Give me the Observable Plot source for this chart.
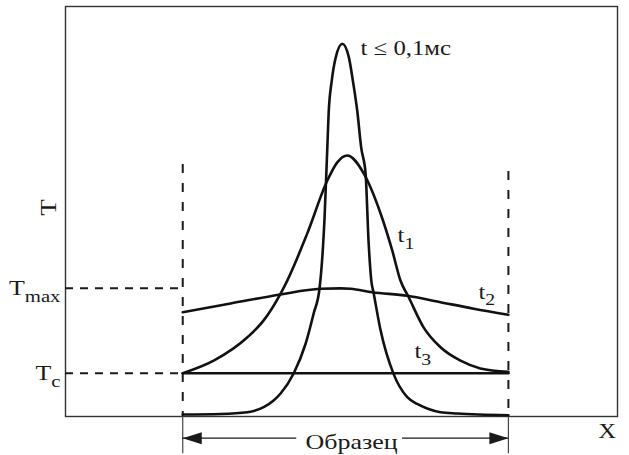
<!DOCTYPE html>
<html>
<head>
<meta charset="utf-8">
<script src="https://cdn.jsdelivr.net/npm/d3@7"></script>
<script src="https://cdn.jsdelivr.net/npm/@observablehq/plot@0.6"></script>
<style>
  html, body { margin: 0; padding: 0; background: #fff; }
  #chart svg { display: block; }
</style>
</head>
<body>
<div id="chart"></div>
<script>
// Temperature profiles T(X) across the specimen at successive moments.
// X: specimen spans -1 … 1; T in relative units (T_c = 1).

const sampleEdges = [-1, 1];
const T_c = 1;
const T_max = 2.96;

// t ≤ 0,1 мс — narrow heating pulse
const pulseX = [-1, -0.767, -0.603, -0.503, -0.442, -0.399, -0.319, -0.245, -0.196, -0.160, -0.129, -0.112, -0.104, -0.085, -0.060, -0.020, 0.020, 0.045, 0.072, 0.096, 0.123, 0.141, 0.158, 0.172, 0.215, 0.294, 0.379, 0.440, 0.501, 0.583, 0.685, 1];
const pulseT = [0.046, 0.058, 0.099, 0.215, 0.37, 0.531, 0.993, 1.686, 2.379, 2.956, 4.596, 6.22, 7.0, 7.75, 8.30, 8.61, 8.30, 7.75, 7.05, 6.21, 5.61, 4.06, 3.14, 2.86, 1.99, 0.99, 0.446, 0.29, 0.185, 0.099, 0.069, 0.03];

// t1
const t1X = [-1, -0.810, -0.603, -0.503, -0.399, -0.358, -0.235, -0.112, -0.051, 0.010, 0.112, 0.215, 0.287, 0.337, 0.387, 0.479, 0.583, 0.706, 0.828, 1];
const t1T = [1.0, 1.29, 1.83, 2.22, 2.84, 3.14, 4.23, 5.45, 5.87, 6.03, 5.61, 4.69, 3.83, 3.14, 2.76, 2.06, 1.60, 1.29, 1.11, 1.03];

// t2
const t2X = [-1, -0.706, -0.399, -0.153, -0.031, 0.031, 0.164, 0.379, 0.583, 0.787, 1];
const t2T = [2.41, 2.61, 2.82, 2.95, 2.96, 2.95, 2.87, 2.79, 2.64, 2.49, 2.35];

// t3 — uniform
const t3X = [-1, 1];
const t3T = [1, 1];

const seriesNames = ["pulse", "t1", "t2", "t3"];
const seriesX = [pulseX, t1X, t2X, t3X];
const seriesT = [pulseT, t1T, t2T, t3T];

const rows = seriesNames.flatMap((name, k) =>
  seriesX[k].map((x, i) => ({series: name, x, T: seriesT[k][i]}))
);

// Curve labels ("_" marks a subscript)
const curveLabels = [
  {text: "t ≤ 0,1мс", x: 0.092, T: 8.34},
  {text: "t_1", x: 0.319, T: 4.02},
  {text: "t_2", x: 0.816, T: 2.725},
  {text: "t_3", x: 0.423, T: 1.34}
];
const levelLabels = [
  {text: "T_max", T: T_max},
  {text: "T_c", T: T_c}
];

const xLeft = -1.72, xRight = 1.67;
const arrowT = -0.5;

// Filled arrowheads (tip at the anchor point)
const headRight = {draw(ctx) { ctx.moveTo(0, 0); ctx.lineTo(-19, -6); ctx.lineTo(-19, 6); ctx.closePath(); }};
const headLeft = {draw(ctx) { ctx.moveTo(0, 0); ctx.lineTo(19, -6); ctx.lineTo(19, 6); ctx.closePath(); }};

const ink = "#1a1a1a";

const plot = Plot.plot({
  width: 629,
  height: 455,
  marginLeft: 65,
  marginRight: 12,
  marginTop: 6,
  marginBottom: 39,
  x: {domain: [xLeft, xRight], axis: null},
  y: {domain: [0, 9.47], axis: null},
  style: {fontFamily: "'Liberation Serif', 'Times New Roman', serif", background: "#fff", overflow: "visible", color: ink},
  marks: [
    Plot.frame({stroke: "#333", strokeWidth: 1.4}),
    // specimen boundaries
    Plot.ruleX([{x: -1, top: 5.82}, {x: 1, top: 5.66}], {x: "x", y1: "top", y2: 0, stroke: ink, strokeWidth: 2, strokeDasharray: "9,10"}),
    Plot.ruleX(sampleEdges, {y1: 0, y2: -0.86, stroke: "#444", strokeWidth: 1.2}),
    // reference levels
    Plot.ruleY([T_max, T_c], {x1: xLeft, x2: -1, stroke: ink, strokeWidth: 2, strokeDasharray: "8,7"}),
    // profiles
    Plot.line(rows, {x: "x", y: "T", z: "series", curve: "monotone-x", stroke: "#111", strokeWidth: 2.6}),
    // specimen extent arrow
    Plot.ruleY([arrowT], {x1: -1, x2: -0.30, stroke: ink, strokeWidth: 1.3}),
    Plot.ruleY([arrowT], {x1: 0.35, x2: 1, stroke: ink, strokeWidth: 1.3}),
    Plot.dot([sampleEdges[0]], {x: d => d, y: arrowT, symbol: headLeft, fill: ink, stroke: "none"}),
    Plot.dot([sampleEdges[1]], {x: d => d, y: arrowT, symbol: headRight, fill: ink, stroke: "none"}),
    Plot.text(["Образец"], {x: 0.037, y: -0.762, text: d => d, lineAnchor: "bottom", fontSize: 22, fill: ink}),
    // labels
    Plot.text(curveLabels, {x: "x", y: "T", text: "text", textAnchor: "start", lineAnchor: "bottom", fontSize: 21, fill: ink}),
    Plot.text(levelLabels, {x: xLeft, y: "T", text: "text", textAnchor: "end", lineAnchor: "bottom", dx: -5, dy: 7, fontSize: 22, fill: ink}),
    Plot.text(["X"], {x: 1.607, y: -0.508, text: d => d, lineAnchor: "bottom", fontSize: 21, fill: ink}),
    Plot.text(["T"], {x: -1.779, y: 4.83, text: d => d, rotate: -90, lineAnchor: "bottom", fontSize: 23, fill: ink})
  ]
});

// Turn "A_b" into A with subscript b; widen the serif lettering slightly
for (const t of plot.querySelectorAll("text")) {
  const s = t.textContent;
  const k = s.indexOf("_");
  if (k >= 0) {
    t.textContent = s.slice(0, k);
    const sub = document.createElementNS("http://www.w3.org/2000/svg", "tspan");
    sub.setAttribute("font-size", "0.8em");
    sub.setAttribute("dy", "0.38em");
    sub.textContent = s.slice(k + 1);
    t.appendChild(sub);
  }
  const tr = t.getAttribute("transform");
  if (tr) t.setAttribute("transform", tr + " scale(1.18,1)");
}

document.getElementById("chart").appendChild(plot);
</script>
</body>
</html>
